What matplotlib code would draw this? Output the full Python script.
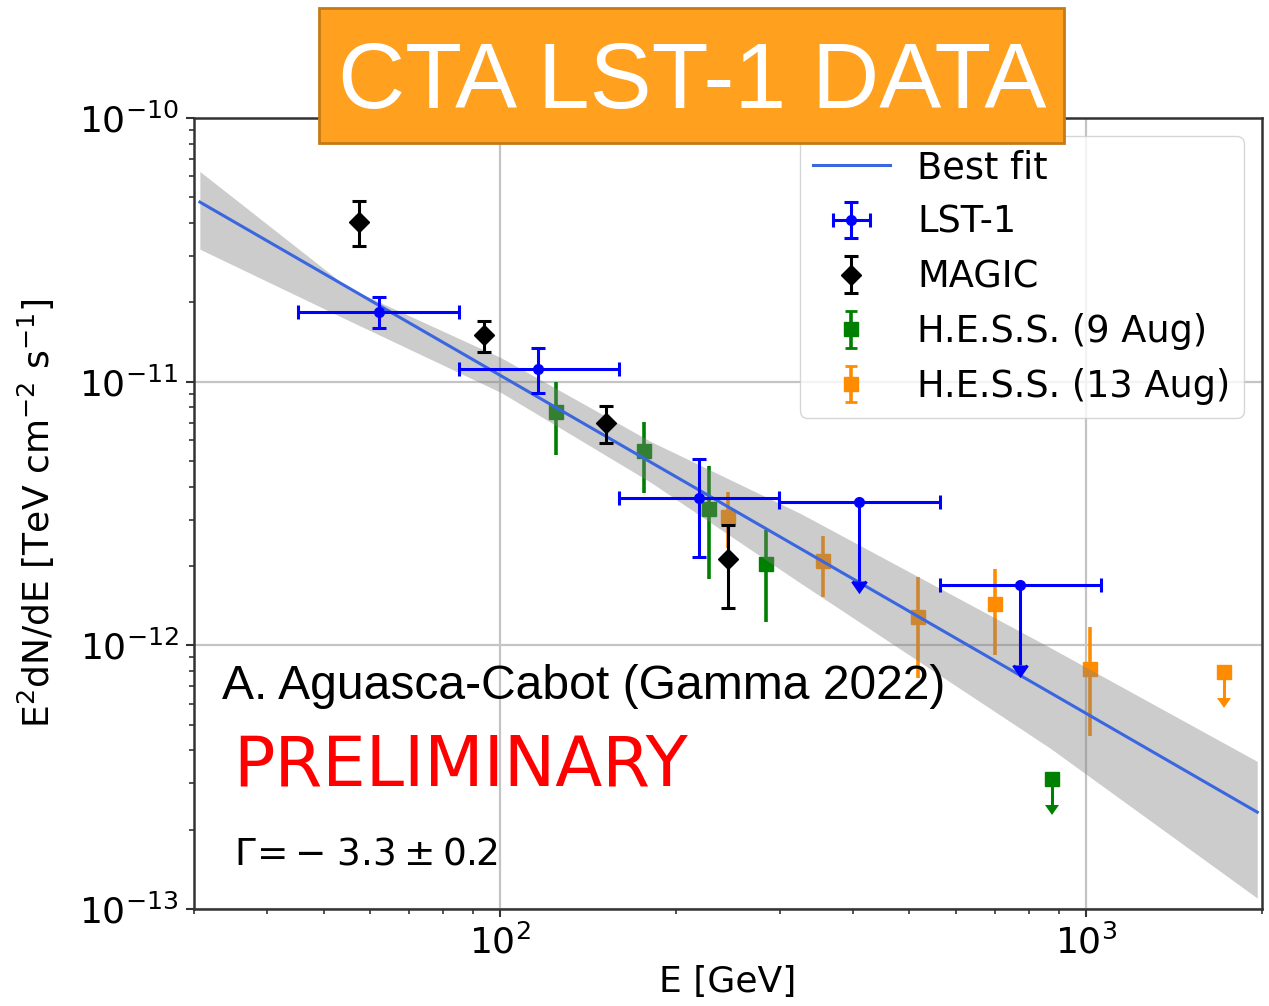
import numpy as np
import matplotlib
matplotlib.use("Agg")
import matplotlib.pyplot as plt
from matplotlib.patches import Rectangle

# ---------------- data ----------------
# LST-1 (energy bins with edges, flux, errors; last two are upper limits)
lst_E = [62.0, 116.2, 218.7, 409.8, 773.3]
lst_E_lo = [45.2, 84.9, 159.7, 299.4, 563.2]
lst_E_hi = [84.9, 159.7, 299.4, 563.2, 1063.6]
lst_F = [1.84e-11, 1.12e-11, 3.62e-12, 3.50e-12, 1.69e-12]
lst_F_up = [2.10e-11, 1.34e-11, 5.07e-12, 3.50e-12, 1.69e-12]
lst_F_lo = [1.60e-11, 9.06e-12, 2.17e-12, 1.75e-12, 0.845e-12]
lst_ul = [False, False, False, True, True]

# MAGIC
magic_E = [57.3, 93.8, 151.6, 244.5]
magic_F = [4.03e-11, 1.50e-11, 6.96e-12, 2.12e-12]
magic_F_up = [4.83e-11, 1.70e-11, 8.11e-12, 2.87e-12]
magic_F_lo = [3.27e-11, 1.30e-11, 5.85e-12, 1.38e-12]

# H.E.S.S. (9 Aug)
hess9_E = [124.6, 176.2, 227.5, 284.1]
hess9_F = [7.66e-12, 5.45e-12, 3.30e-12, 2.03e-12]
hess9_F_up = [1.00e-11, 7.02e-12, 4.77e-12, 2.73e-12]
hess9_F_lo = [5.25e-12, 3.78e-12, 1.78e-12, 1.23e-12]
hess9_ul_E = [875.4]
hess9_ul_F = [3.10e-13]
hess9_ul_tip = [2.48e-13]

# H.E.S.S. (13 Aug)
hess13_E = [245.4, 356.3, 517.4, 699.8, 1018.5]
hess13_F = [3.07e-12, 2.08e-12, 1.28e-12, 1.43e-12, 8.10e-13]
hess13_F_up = [3.82e-12, 2.60e-12, 1.81e-12, 1.94e-12, 1.17e-12]
hess13_F_lo = [2.34e-12, 1.53e-12, 7.54e-13, 9.16e-13, 4.54e-13]
hess13_ul_E = [1720.0]
hess13_ul_F = [7.91e-13]
hess13_ul_tip = [6.30e-13]

# Best fit power law (end points) and its uncertainty band
fit_E = [30.7, 1963.0]
fit_F = [4.80e-11, 2.33e-13]
band_E = [30.7, 55.0, 100.4, 180.8, 326.0, 870.0, 1963.0]
band_hi = [6.27e-11, 2.27e-11, 1.232e-11, 5.93e-12, 3.16e-12, 9.80e-13, 3.63e-13]
band_lo = [3.18e-11, 1.71e-11, 9.09e-12, 4.15e-12, 1.72e-12, 4.07e-13, 1.10e-13]

# ---------------- figure ----------------
W, H = 1269, 1006
fig = plt.figure(figsize=(W / 100, H / 100), dpi=100)
ax = fig.add_axes([194 / W, 1 - 909 / H, (1262 - 194) / W, (909 - 118) / H])
ax.set_xscale("log")
ax.set_yscale("log")

ax.set_axisbelow(True)
ax.grid(True, which="major", color="#c4c4c4", lw=1.6, zorder=0)
for s in ax.spines.values():
    s.set_linewidth(1.8)
    s.set_color("#333333")
ax.tick_params(which="major", length=6, width=1.5, labelsize=26, pad=5,
               color="#333333")
ax.tick_params(which="minor", length=3.5, width=1.2, color="#333333")


def asym(v, up, lo):
    v = np.asarray(v); up = np.asarray(up); lo = np.asarray(lo)
    return np.vstack([v - lo, up - v])


# H.E.S.S. points (below the band)
c9, c13 = "green", "darkorange"
ax.errorbar(hess9_E, hess9_F, yerr=asym(hess9_F, hess9_F_up, hess9_F_lo),
            fmt="s", color=c9, ms=9.5, elinewidth=2.6, capsize=0, zorder=2)
ax.errorbar(hess13_E, hess13_F, yerr=asym(hess13_F, hess13_F_up, hess13_F_lo),
            fmt="s", color=c13, ms=9.5, elinewidth=2.6, capsize=0, zorder=2)
ax.errorbar(hess9_ul_E, hess9_ul_F,
            yerr=np.array(hess9_ul_F) - np.array(hess9_ul_tip), uplims=True,
            fmt="s", color=c9, ms=9.5, elinewidth=2.2, capsize=5, capthick=0,
            zorder=2)
ax.errorbar(hess13_ul_E, hess13_ul_F,
            yerr=np.array(hess13_ul_F) - np.array(hess13_ul_tip), uplims=True,
            fmt="s", color=c13, ms=9.5, elinewidth=2.2, capsize=5, capthick=0,
            zorder=2)

# band + fit line
ax.fill_between(band_E, band_lo, band_hi, color="gray", alpha=0.4, lw=0,
                zorder=3)
ln, = ax.plot(fit_E, fit_F, color="#3a66e0", lw=2.2, zorder=4, label="Best fit")

# LST-1
yerr = asym(lst_F, lst_F_up, lst_F_lo)
xerr = asym(lst_E, lst_E_hi, lst_E_lo)
h_lst = ax.errorbar(lst_E, lst_F, xerr=xerr, yerr=yerr, uplims=lst_ul,
                    fmt="o", color="blue", ms=7, elinewidth=2.2, capsize=5,
                    capthick=2.2, zorder=5, label="LST-1")

# MAGIC
h_magic = ax.errorbar(magic_E, magic_F,
                      yerr=asym(magic_F, magic_F_up, magic_F_lo),
                      fmt="D", color="black", ms=10, elinewidth=2.2, capsize=5,
                      capthick=2.2, zorder=5, label="MAGIC")

# legend proxies for H.E.S.S. (placed outside the visible range)
h9 = ax.errorbar([1.0], [1e-12], yerr=[3e-13], fmt="s", color=c9, ms=9.5,
                 elinewidth=2.6, capsize=4, capthick=2, label="H.E.S.S. (9 Aug)")
h13 = ax.errorbar([1.0], [1e-12], yerr=[3e-13], fmt="s", color=c13, ms=9.5,
                  elinewidth=2.6, capsize=4, capthick=2,
                  label="H.E.S.S. (13 Aug)")
ax.set_xlim(30, 2000)
ax.set_ylim(1e-13, 1e-10)

leg = ax.legend(handles=[ln, h_lst, h_magic, h9, h13], loc="upper right",
                fontsize=26.5, frameon=True, fancybox=True, framealpha=0.8,
                edgecolor="#cccccc", borderaxespad=0.5, handlelength=2.1,
                handletextpad=0.75, borderpad=0.35, labelspacing=0.48)
leg.set_zorder(10)

ax.set_xlabel("E [GeV]", fontsize=26, labelpad=3)
ax.set_ylabel(r"E$^2$dN/dE [TeV cm$^{-2}$ s$^{-1}$]", fontsize=26, labelpad=16)

ax.text(0.037, 0.056, r"$\Gamma\!=-\;3.3 \pm 0.2$", transform=ax.transAxes,
        fontsize=27, ha="left", va="baseline")

# overlay texts
fig.text(222 / W, 1 - 699 / H, "A. Aguasca-Cabot (Gamma 2022)",
         family="Liberation Sans", fontsize=34.6, color="black",
         ha="left", va="baseline", zorder=6)
fig.text(233 / W, 1 - 785 / H, "PRELIMINARY", family="DejaVu Sans",
         fontsize=49.5, color="red", ha="left", va="baseline", zorder=6)

rect = Rectangle((319 / W, 1 - 143 / H), (1064 - 319) / W, (143 - 8) / H,
                 transform=fig.transFigure, facecolor="#ffa01f",
                 edgecolor="#c57a16", lw=2, zorder=5)
fig.patches.append(rect)
fig.text(692 / W, 1 - 108 / H, "CTA LST-1 DATA", family="Liberation Sans",
         fontsize=67, color="white", ha="center", va="baseline", zorder=6)

fig.savefig("out.png", dpi=100)
